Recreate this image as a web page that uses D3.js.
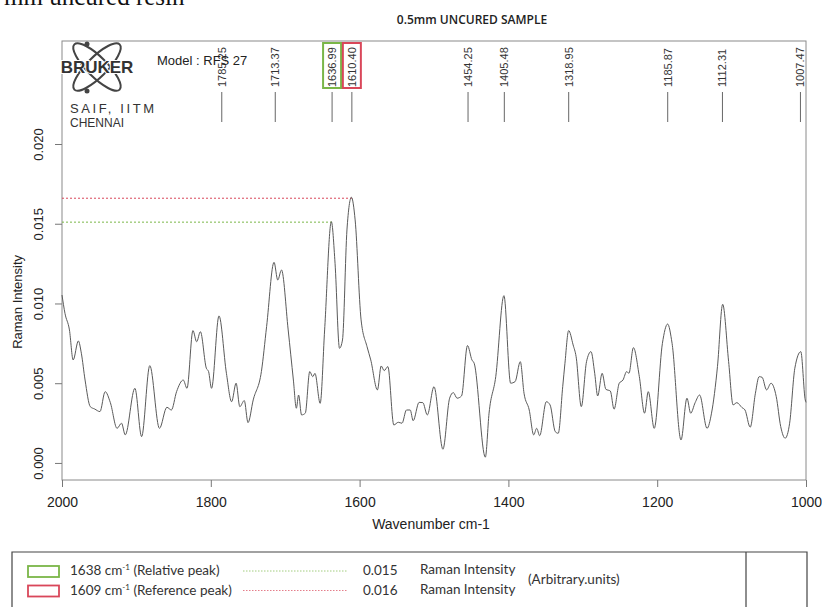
<!DOCTYPE html>
<html>
<head>
<meta charset="utf-8">
<script src="https://d3js.org/d3.v7.min.js"></script>
<style>
  body { margin: 0; background: #fff; }
  svg { font-family: "Liberation Sans", Arial, sans-serif; }
  .legend text { font-family: Lato, "Open Sans", sans-serif; fill: #333; }
</style>
</head>
<body>
<svg id="chart" width="822" height="607"></svg>
<script>
// spectrum (cm-1, Raman intensity)
var wavenumbers = [2000,1996,1990,1985,1978,1974,1969,1962,1956,1949,1942,1935,1926,1920,1915,1902,1893,1882,1869,1859,
  1853,1846,1837,1832,1824,1819,1814,1806,1803,1799,1789,1779,1772,1766,1761,1755,1750,1743,1732,1725,
  1715,1710,1705,1696,1689,1685,1682,1678,1673,1667,1663,1660,1653,1647,1638,1633,1627,1623,1617,1611,
  1606,1598,1590,1585,1576,1571,1567,1562,1554,1548,1543,1537,1532,1528,1520,1515,1509,1500,1488,1479,
  1474,1469,1463,1455,1449,1446,1431,1426,1417,1406,1397,1391,1384,1379,1372,1366,1362,1358,1349,1344,
  1337,1333,1327,1324,1319,1313,1309,1302,1295,1289,1284,1280,1274,1269,1263,1258,1251,1246,1241,1238,
  1232,1224,1217,1212,1204,1193,1186,1180,1168,1160,1155,1149,1143,1133,1127,1119,1112,1104,1098,1093,
  1086,1082,1075,1068,1063,1059,1053,1047,1040,1034,1028,1022,1015,1007,1001,1000];
var intensity = [.01053,.00938,.00834,.00646,.00765,.00688,.0052,.00353,.00338,.00322,.00447,.00378,.00217,.00249,.00176,.00468,.00165,.0061,.00217,.00349,
  .00332,.00447,.0052,.00468,.0083,.0076,.00823,.00594,.00573,.00468,.00922,.00562,.00384,.005,.00353,.00391,.00253,.00395,.00573,.00855,
  .01258,.01147,.0121,.00834,.0052,.00343,.00426,.00301,.00312,.00573,.00541,.00562,.00374,.00834,.01513,.01252,.00719,.00771,.01461,.01666,
  .01524,.00897,.00729,.00646,.00458,.00608,.00579,.00604,.00238,.00255,.00249,.00332,.00332,.00265,.0038,.00378,.00301,.00478,.00086,.00406,
  .00441,.00406,.0042,.00736,.00646,.00625,.00036,.00312,.00541,.01049,.005,.0051,.00635,.00437,.00332,.00176,.00217,.00171,.00384,.00364,
  .00196,.00186,.00478,.00625,.0083,.0074,.00667,.00353,.00635,.00698,.00562,.0042,.00562,.00462,.00451,.00337,.005,.0052,.00573,.00562,
  .00723,.00541,.00312,.00447,.00217,.0075,.00871,.0075,.00144,.00406,.00312,.00378,.00426,.00217,.00312,.00604,.00995,.00635,.00364,.00378,
  .00347,.00332,.00224,.00437,.00541,.00537,.00458,.005,.00416,.00228,.00155,.00249,.00594,.00698,.00395,.0038];

var peakPositions = [1785.25, 1713.37, 1636.99, 1610.40, 1454.25, 1405.48, 1318.95, 1185.87, 1112.31, 1007.47];
var xTicks = [2000, 1800, 1600, 1400, 1200, 1000];
var yTicks = [0, 0.005, 0.010, 0.015, 0.020];

// marked peaks: relative (green) and reference (red)
var markedPeaks = [1636.99, 1610.40];
var markedLevels = [0.0151, 0.0166];
var markedColors = ["#7ab648", "#d9475a"];
var legendLabels = ["1638 cm", "1609 cm"];
var legendNotes = ["(Relative peak)", "(Reference peak)"];
var legendValues = ["0.015", "0.016"];

var svg = d3.select("#chart");
var box = { left: 62, right: 806, top: 41, bottom: 480 };

var x = d3.scaleLinear().domain([2000, 1000]).range([box.left, box.right]);
var y = d3.scaleLinear().domain([-0.00107, 0.02646]).range([box.bottom, box.top]);

// cropped caption at top of the page
svg.append("text").attr("x", 4).attr("y", 5)
  .style("font-family", "'Liberation Serif', serif").style("font-size", "25px").attr("fill", "#111")
  .text("mm uncured resin");

svg.append("text").attr("x", 472).attr("y", 24).attr("text-anchor", "middle")
  .style("font-family", "'Open Sans', sans-serif").style("font-size", "12px").style("font-weight", 600)
  .attr("fill", "#222").text("0.5mm UNCURED SAMPLE");

// frame
svg.append("rect").attr("x", box.left).attr("y", box.top)
  .attr("width", box.right - box.left).attr("height", box.bottom - box.top)
  .attr("fill", "none").attr("stroke", "#8a8a8a").attr("stroke-width", 1);

// x axis
var xAxis = svg.append("g").attr("transform", "translate(0," + box.bottom + ")")
  .call(d3.axisBottom(x).tickValues(xTicks).tickSize(7).tickPadding(10).tickFormat(d3.format("d")));
xAxis.select(".domain").remove();
xAxis.selectAll("line").attr("stroke", "#777");
xAxis.selectAll("text").style("font-size", "14px").attr("fill", "#222");

svg.append("text").attr("x", 431).attr("y", 529).attr("text-anchor", "middle")
  .style("font-size", "14px").attr("fill", "#222").text("Wavenumber cm-1");

// y axis (vertical labels)
var yAxis = svg.append("g").attr("transform", "translate(" + box.left + ",0)")
  .call(d3.axisLeft(y).tickValues(yTicks).tickSize(7).tickFormat(d3.format(".3f")));
yAxis.select(".domain").remove();
yAxis.selectAll("line").attr("stroke", "#777");
yAxis.selectAll("text")
  .attr("x", 0).attr("dy", 0).attr("text-anchor", "middle")
  .attr("transform", "translate(-19,0) rotate(-90)")
  .style("font-size", "13px").attr("fill", "#222");

svg.append("text").attr("transform", "translate(22," + y(0.0101) + ") rotate(-90)")
  .attr("text-anchor", "middle").style("font-size", "13px").attr("fill", "#222")
  .text("Raman Intensity");

// peak level guides
markedPeaks.forEach(function(p, i) {
  svg.append("line")
    .attr("x1", box.left).attr("x2", x(p))
    .attr("y1", y(markedLevels[i])).attr("y2", y(markedLevels[i]))
    .attr("stroke", markedColors[i]).attr("stroke-width", 1)
    .attr("stroke-dasharray", "2,2");
});

// spectrum
var points = wavenumbers.map(function(w, i) { return [w, intensity[i]]; });
var line = d3.line()
  .x(function(d) { return x(d[0]); })
  .y(function(d) { return y(d[1]); })
  .curve(d3.curveMonotoneX);
svg.append("path").datum(points)
  .attr("d", line).attr("fill", "none")
  .attr("stroke", "#5a5a5a").attr("stroke-width", 1);

// peak labels
var peaks = svg.append("g").selectAll("g").data(peakPositions).enter().append("g")
  .attr("transform", function(d) { return "translate(" + x(d) + ",0)"; });
peaks.append("line").attr("y1", 92).attr("y2", 122).attr("stroke", "#666");
peaks.append("text")
  .attr("transform", "translate(0,87) rotate(-90)")
  .attr("dy", "0.35em").style("font-size", "11px").attr("fill", "#333")
  .text(function(d) { return d.toFixed(2); });

markedPeaks.forEach(function(p, i) {
  svg.append("rect").attr("x", x(p) - 9).attr("y", 43).attr("width", 18).attr("height", 45)
    .attr("fill", "none").attr("stroke", markedColors[i]).attr("stroke-width", 2);
});

// logo block
var logo = svg.append("g");
[45, -45].forEach(function(a) {
  logo.append("ellipse").attr("cx", 0).attr("cy", 0).attr("rx", 32).attr("ry", 10)
    .attr("transform", "translate(97,67) rotate(" + a + ")")
    .attr("fill", "none").attr("stroke", "#444").attr("stroke-width", 2);
});
logo.append("circle").attr("cx", 87).attr("cy", 44).attr("r", 2.5).attr("fill", "#444");
logo.append("circle").attr("cx", 87).attr("cy", 91).attr("r", 2.5).attr("fill", "#444");
logo.append("text").attr("x", 97).attr("y", 73).attr("text-anchor", "middle")
  .style("font-size", "17px").style("font-weight", "bold").attr("fill", "#333")
  .style("paint-order", "stroke").attr("stroke", "#fff").attr("stroke-width", 2)
  .text("BRUKER");
logo.append("text").attr("x", 70).attr("y", 113).style("font-size", "13px")
  .style("letter-spacing", "2.6px").attr("fill", "#333").text("SAIF, IITM");
logo.append("text").attr("x", 70).attr("y", 127).style("font-size", "12px")
  .attr("fill", "#333").text("CHENNAI");
svg.append("text").attr("x", 157).attr("y", 65).style("font-size", "13px")
  .attr("fill", "#222").text("Model : RFS 27");

// legend table
var legend = svg.append("g").attr("class", "legend");
legend.append("path").attr("d", "M12,620V552H807V620M746,552V620")
  .attr("fill", "none").attr("stroke", "#444").attr("stroke-width", 1.2);
legendLabels.forEach(function(lab, i) {
  var by = 571 + i * 19.5;
  legend.append("rect").attr("x", 28).attr("y", by - 5).attr("width", 31).attr("height", 11)
    .attr("fill", "none").attr("stroke", markedColors[i]).attr("stroke-width", 1.8);
  var t = legend.append("text").attr("x", 70).attr("y", by + 4).style("font-size", "13.5px");
  t.append("tspan").text(lab);
  t.append("tspan").attr("dy", -5).style("font-size", "8px").text("-1");
  t.append("tspan").attr("dy", 5).text(" " + legendNotes[i]);
  legend.append("line").attr("x1", 243).attr("x2", 348).attr("y1", by).attr("y2", by)
    .attr("stroke", markedColors[i]).attr("stroke-opacity", 0.7).attr("stroke-dasharray", "1.5,1.5");
  legend.append("text").attr("x", 363).attr("y", by + 4).style("font-size", "13.5px").text(legendValues[i]);
  legend.append("text").attr("x", 420).attr("y", by + 3).style("font-size", "13.5px").text("Raman Intensity");
});
legend.append("text").attr("x", 528).attr("y", 584).style("font-size", "13.5px").text("(Arbitrary.units)");
</script>
</body>
</html>
